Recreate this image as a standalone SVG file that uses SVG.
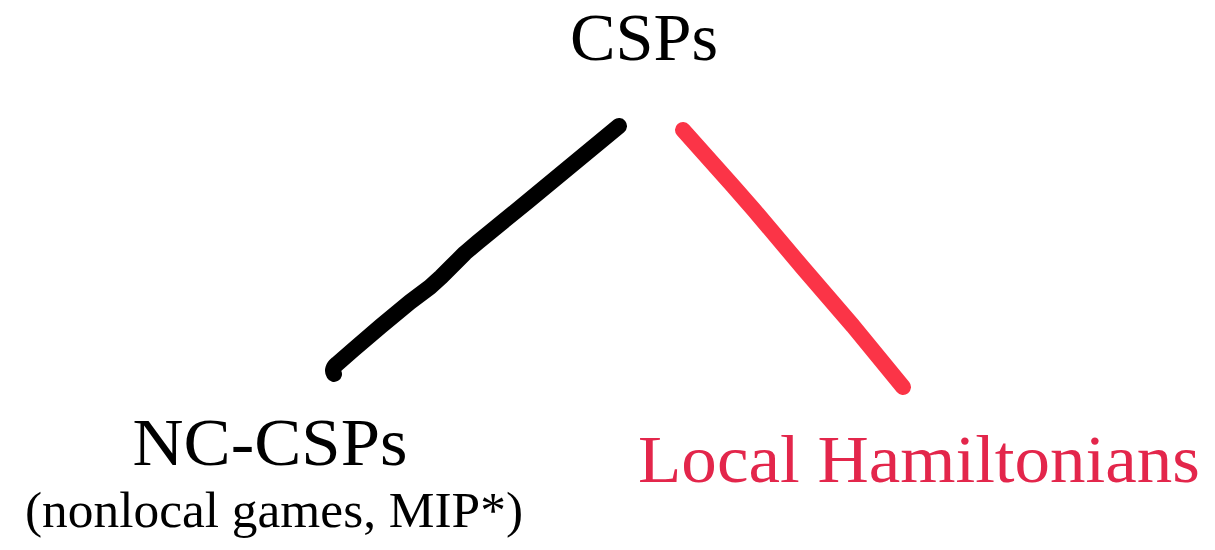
<svg xmlns="http://www.w3.org/2000/svg" width="1215" height="550" viewBox="0 0 1215 550">
  <style>
    .label { font-family: "Liberation Serif", "Times New Roman", serif; text-anchor: middle; }
    .dark { fill: #000000; }
    .red { fill: #E3264B; }
    .stroke { fill: none; stroke-width: 16; stroke-linecap: round; stroke-linejoin: round; }
  </style>
  <rect width="1215" height="550" fill="#ffffff"/>

  <g id="connectors">
    <!-- hand-drawn black stroke: CSPs to NC-CSPs -->
    <path class="stroke" stroke="#000000" d="M619,126 L573,164 L527,202 L478,242 L465,253 L453,265 L441,277 L430,287 L410,302 L381,326 L353,350 L337,364 Q331,369 334,374"/>
    <!-- hand-drawn red stroke: CSPs to Local Hamiltonians -->
    <path class="stroke" stroke="#FB3447" d="M683,130 L733,186 L754,210 L803,268 L853,326 L903,387"/>
  </g>

  <g id="node-csps">
    <text class="label dark" x="644" y="60" font-size="68" textLength="148" lengthAdjust="spacingAndGlyphs">CSPs</text>
  </g>

  <g id="node-nc-csps">
    <text class="label dark" x="270" y="465" font-size="68" textLength="275" lengthAdjust="spacingAndGlyphs">NC-CSPs</text>
    <text class="label dark" x="274" y="527" font-size="50" textLength="498" lengthAdjust="spacingAndGlyphs">(nonlocal games, MIP*)</text>
  </g>

  <g id="node-local-hamiltonians">
    <text class="label red" x="919" y="482" font-size="68" textLength="562" lengthAdjust="spacingAndGlyphs">Local Hamiltonians</text>
  </g>
</svg>
